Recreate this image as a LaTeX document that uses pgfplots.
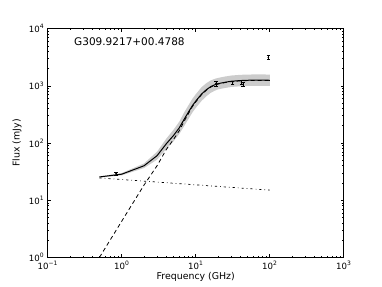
\documentclass[border=0pt]{standalone}
\usepackage{fontspec}
\setmainfont{DejaVu Sans}
\usepackage{pgfplots}
\pgfplotsset{compat=1.18}
\begin{document}
\begin{tikzpicture}
\begin{axis}[name=ax, xmode=log, ymode=log, scale only axis,
  width=296pt, height=228.8pt,
  xmin=0.1, xmax=1000, ymin=1, ymax=10000,
  axis line style={line width=0.7pt},
  xtick={0.1,1,10,100,1000},
  xticklabels={10\textsuperscript{−1},10\textsuperscript{0},10\textsuperscript{1},10\textsuperscript{2},10\textsuperscript{3}},
  ytick={1,10,100,1000,10000},
  yticklabels={10\textsuperscript{0},10\textsuperscript{1},10\textsuperscript{2},10\textsuperscript{3},10\textsuperscript{4}},
  minor xtick={0.2,0.3,0.4,0.5,0.6,0.7,0.8,0.9,2,3,4,5,6,7,8,9,20,30,40,50,60,70,80,90,200,300,400,500,600,700,800,900},
  minor ytick={2,3,4,5,6,7,8,9,20,30,40,50,60,70,80,90,200,300,400,500,600,700,800,900,2000,3000,4000,5000,6000,7000,8000,9000},
  tick align=inside, major tick length=3pt, minor tick length=1.5pt,
  tick style={line width=0.6pt, black},
  tick label style={font=\fontsize{8.6}{10}\selectfont},
  xlabel={Frequency (GHz)}, ylabel={Flux (mJy)},
  label style={font=\fontsize{9.4}{11}\selectfont},
  xlabel style={at={(axis description cs:0.5,-0.0857)}, anchor=center},
  ylabel style={at={(axis description cs:-0.104,0.5)}, anchor=center},
]
% uncertainty band (upper forward, lower backward)
\addplot[fill=black!20, draw=none] coordinates {
 (0.5,26.1) (1,29.8) (2,43.9) (3,70.5) (4,119.3) (5,170) (6,237) (7,345) (8,461) (9,593) (10,712) (12,949) (14,1119) (16,1244) (18,1323) (20,1372) (25,1454) (30,1511) (40,1555) (50,1574) (70,1580) (100,1574)
 (100,993) (70,997) (50,993) (40,981) (30,953) (25,917) (20,866) (18,818) (16,757) (14,661) (12,546) (10,410) (9,341) (8,265) (7,199) (6,144.5) (5,107) (4,78.9) (3,51.1) (2,36.5) (1,27.2) (0.5,24.9)
};
% dash-dot component
\addplot[black, line width=0.7pt, dash pattern=on 2.2pt off 3pt on 0.7pt off 3pt] coordinates {(0.5,24.5) (100,15)};
% dashed component
\addplot[black, line width=0.8pt, dash pattern=on 4pt off 3pt] coordinates {
 (0.5,1) (1,4.3) (2,18.4) (3,40) (4,77) (5,115) (6,165) (7,242) (8,330) (9,432) (10,522) (12,702) (14,843) (16,950) (18,1025) (20,1072) (25,1138) (30,1184) (40,1220) (50,1235) (70,1240) (100,1236)
};
% total model
\addplot[black, line width=1pt] coordinates {
 (0.5,25.5) (1,28.5) (2,40) (3,60) (4,97) (5,135) (6,185) (7,262) (8,350) (9,450) (10,540) (12,720) (14,860) (16,970) (18,1040) (20,1090) (25,1155) (30,1200) (40,1235) (50,1250) (70,1255) (100,1250)
};
% measurements
\addplot[black, only marks, mark=*, mark size=0.5pt,
  error bars/.cd, y dir=both, y explicit,
  error mark options={rotate=90, mark size=1.7pt, line width=0.6pt, black},
  error bar style={line width=0.6pt, black}] table[x=x, y=y, y error=e] {
x y e
0.836 29 2
18.7 1100 120
31.5 1130 60
41.5 1140 90
43.5 1060 70
95.5 3150 230
};
\node[anchor=base west, font=\fontsize{10.5}{12}\selectfont] at (axis description cs:0.0775,0.924) {G309.9217+00.4788};
\end{axis}
\path (ax.south west) ++(-47.75pt,-28.6pt) rectangle ++(382pt,286pt);
\end{tikzpicture}
\end{document}
